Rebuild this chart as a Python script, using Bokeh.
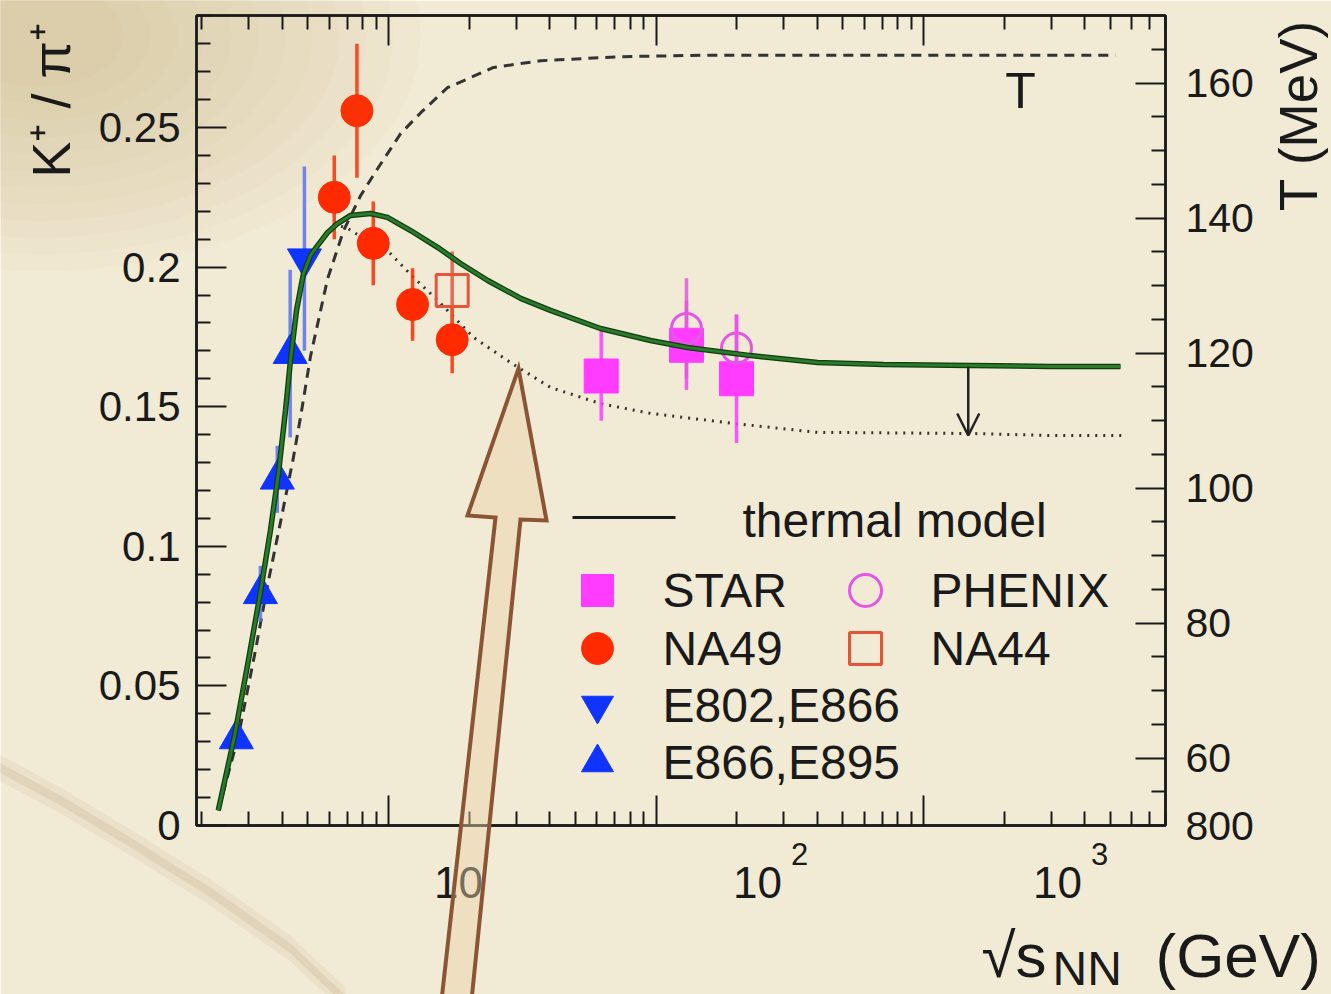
import math
from bokeh.plotting import figure
from bokeh.models import (Range1d, LinearAxis, LogAxis, FixedTicker, Arrow, OpenHead,
                          CustomJSTickFormatter)
from bokeh.core.properties import value
from bokeh.embed import file_html
from bokeh.resources import INLINE

# ---------------- data ----------------
# E866,E895 (AGS, up triangles)
e895_sqrt_s = [2.70, 3.32, 3.84, 4.29]
e895_ratio = [0.031, 0.083, 0.124, 0.169]
e895_err = [0.003, 0.010, 0.012, 0.030]
# E802,E866 (down triangle)
e802_sqrt_s = [4.85]
e802_ratio = [0.203]
e802_err = [0.033]
# NA49 (SPS)
na49_sqrt_s = [6.27, 7.62, 8.77, 12.3, 17.3]
na49_ratio = [0.225, 0.256, 0.2085, 0.1866, 0.174]
na49_err = [0.015, 0.024, 0.015, 0.013, 0.012]
# NA44
na44_sqrt_s = [17.3]
na44_ratio = [0.1916]
na44_err = [0.014]
# STAR
star_sqrt_s = [62.4, 130.0, 200.0]
star_ratio = [0.161, 0.172, 0.160]
star_err = [0.016, 0.016, 0.023]
# PHENIX
phenix_sqrt_s = [130.0, 200.0]
phenix_ratio = [0.178, 0.171]
phenix_err = [0.018, 0.012]

# thermal model K+/pi+ (solid green)
model_sqrt_s = [2.31, 2.66, 2.97, 3.32, 3.62, 3.88, 4.12, 4.30, 4.53, 4.81, 5.11, 5.43,
                5.92, 6.45, 7.21, 8.57, 9.91, 12.1, 15.3, 18.6, 23.5, 31.2, 40.3, 62.0,
                95.4, 131.0, 226.0, 402.0, 709.0, 1500.0, 2980.0, 5450.0]
model_ratio = [0.0054, 0.0322, 0.0573, 0.0835, 0.1057, 0.1264, 0.1486, 0.1665, 0.1845,
               0.1977, 0.2042, 0.2077, 0.2124, 0.2156, 0.2185, 0.2192, 0.2178, 0.2131,
               0.2070, 0.2013, 0.1952, 0.1888, 0.1845, 0.1780, 0.1737, 0.1712, 0.1683,
               0.1658, 0.1651, 0.1648, 0.1644, 0.1644]
# thermal model variant (dotted)
alt_sqrt_s = [5.92, 6.45, 7.00, 7.86, 9.91, 12.4, 15.3, 20.8, 28.6, 40.3, 62.0, 95.4,
              195.0, 402.0, 1500.0, 2980.0, 5690.0]
alt_ratio = [0.2124, 0.2150, 0.2140, 0.2110, 0.2059, 0.1963, 0.1880, 0.1748, 0.1658,
             0.1569, 0.1511, 0.1476, 0.1440, 0.1408, 0.1404, 0.1397, 0.1397]
# freeze-out temperature T (dashed, right axis)
temp_sqrt_s = [2.31, 2.75, 3.18, 3.56, 3.95, 4.41, 4.69, 5.11, 5.92, 6.79, 7.86, 9.10,
               11.1, 13.2, 16.6, 24.7, 37.0, 73.7, 147.0, 5220.0]
temp_mev = [52.2, 63.3, 75.9, 86.3, 95.0, 104.5, 110.5, 119.5, 131.0, 138.1, 143.3, 147.3,
            152.5, 155.6, 159.3, 162.3, 163.3, 163.9, 164.1, 164.1]

# LHC drop arrow
limit_sqrt_s = 1470.0
limit_ratio_from = 0.1644
limit_ratio_to = 0.1397

# ticks / labels
x_major = [10, 100, 1000]
x_minor = [k * 10 ** d for d in range(0, 4) for k in range(2, 10)]
y_major = [0.0, 0.05, 0.10, 0.15, 0.20, 0.25]
y_minor = [i / 100 for i in range(1, 30) if i % 5]
t_major = [50, 60, 80, 100, 120, 140, 160]
t_minor = [t for t in range(55, 170, 5) if t not in t_major]
x_label_base = ["10", "10", "10"]
x_label_exp = ["", "2", "3"]

# ---------------- layout ----------------
W, H = 1331, 994
FL, FT, FW, FH = 196, 15, 969, 810
DEC_PX, TEN_PX = 267.5, 388.0
X_LO = 10 ** (1 - (TEN_PX - FL) / DEC_PX)
X_HI = 10 ** (1 + (FL + FW - TEN_PX) / DEC_PX)
Y_HI = 0.25 * FH / (825 - 127)
T_LO, T_HI = 50.0, 170.0

PAPER = "#f1eAd4"
INK = "#1a1a1a"
FONT = "Liberation Sans"


def dx(px):
    return 10 ** (math.log10(X_LO) + (px - FL) / FW * (math.log10(X_HI) - math.log10(X_LO)))


def dy(py):
    return Y_HI * (FT + FH - py) / FH


p = figure(width=W, height=H, frame_width=FW, frame_height=FH,
           x_axis_type="log", x_range=Range1d(X_LO, X_HI), y_range=Range1d(0, Y_HI),
           output_backend="svg", toolbar_location=None,
           min_border_left=FL, min_border_right=W - FL - FW,
           min_border_top=FT, min_border_bottom=H - FT - FH)
p.extra_y_ranges = {"T": Range1d(T_LO, T_HI)}
p.background_fill_color = PAPER
p.border_fill_color = PAPER
p.outline_line_color = INK
p.outline_line_width = 2.5
p.xgrid.visible = False
p.ygrid.visible = False


def style_axis(ax, major_in=30, minor_in=14, size="42px", standoff=18):
    ax.axis_line_color = INK
    ax.axis_line_width = 2.5
    ax.major_tick_line_color = INK
    ax.minor_tick_line_color = INK
    ax.major_tick_line_width = 2
    ax.minor_tick_line_width = 2
    ax.major_tick_in = major_in
    ax.major_tick_out = 0
    ax.minor_tick_in = minor_in
    ax.minor_tick_out = 0
    ax.major_label_text_font = FONT
    ax.major_label_text_font_size = size
    ax.major_label_text_color = INK
    ax.major_label_standoff = standoff


xb = p.xaxis[0]
xb.ticker = FixedTicker(ticks=x_major, minor_ticks=x_minor)
xb.formatter = CustomJSTickFormatter(code="return ''")
style_axis(xb, size="0px", standoff=0)

xt = LogAxis(ticker=FixedTicker(ticks=x_major, minor_ticks=x_minor),
             formatter=CustomJSTickFormatter(code="return ''"))
style_axis(xt, size="0px", standoff=0)
p.add_layout(xt, "above")

yl = p.yaxis[0]
yl.ticker = FixedTicker(ticks=y_major, minor_ticks=y_minor)
yl.formatter = CustomJSTickFormatter(
    code="return tick === 0 ? '0' : String(parseFloat(tick.toFixed(2)))")
style_axis(yl, size="42px", standoff=16)

yr = LinearAxis(y_range_name="T", ticker=FixedTicker(ticks=t_major, minor_ticks=t_minor),
                formatter=CustomJSTickFormatter(code="return tick == 50 ? '800' : tick.toFixed(0)"))
style_axis(yr, size="41px", standoff=20)
p.add_layout(yr, "right")

# ---------------- paper stains (drawn unclipped, translucent) ----------------
STAIN = "#c79d55"
for i in range(12):
    rx = 380 - i * 27
    ry = rx * 0.62
    pts = [(40 + rx * math.cos(a / 60 * 2 * math.pi), 35 + ry * math.sin(a / 60 * 2 * math.pi))
           for a in range(60)]
    p.patch([dx(a) for a, b in pts], [dy(b) for a, b in pts], fill_color=STAIN,
            fill_alpha=0.03, line_color=None, level="guide")
streak = [(-5, 765), (60, 800), (130, 842), (210, 892), (290, 948), (345, 1000)]
for half, alpha in [(13, 0.07), (5, 0.12)]:
    poly = [(a, b - half) for a, b in streak] + [(a, b + half) for a, b in reversed(streak)]
    p.patch([dx(a) for a, b in poly], [dy(b) for a, b in poly], fill_color="#9f7441",
            fill_alpha=alpha, line_color=None, level="guide")

# ---------------- curves ----------------
p.line(temp_sqrt_s, temp_mev, y_range_name="T", line_color="#333333", line_width=3,
       line_dash="10 7")
p.line(alt_sqrt_s, alt_ratio, line_color="#333333", line_width=3, line_dash="2 6")


# ---------------- error bars ----------------
def errbar(xs, ys, es, color, alpha=0.85, width=3.5):
    p.segment(x0=xs, x1=xs, y0=[v - e for v, e in zip(ys, es)],
              y1=[v + e for v, e in zip(ys, es)], line_color=color, line_alpha=alpha,
              line_width=width)


BLUE, BLUE_ERR = "#1034ff", "#5a72f0"
RED = "#ff2a00"
MAG = "#ff3cff"
NA44C = "#e5553a"
PHXC = "#e655e6"
errbar(e895_sqrt_s, e895_ratio, e895_err, BLUE_ERR)
errbar(e802_sqrt_s, e802_ratio, e802_err, BLUE_ERR)
errbar(na49_sqrt_s, na49_ratio, na49_err, RED)
errbar(na44_sqrt_s, na44_ratio, na44_err, NA44C)
errbar(star_sqrt_s, star_ratio, star_err, MAG)
errbar(phenix_sqrt_s, phenix_ratio, phenix_err, PHXC)

# ---------------- markers ----------------
p.scatter(e895_sqrt_s, e895_ratio, marker="triangle", size=34, fill_color=BLUE, line_color=BLUE)
p.scatter(e802_sqrt_s, e802_ratio, marker="inverted_triangle", size=34, fill_color=BLUE,
          line_color=BLUE)
p.scatter(na49_sqrt_s, na49_ratio, marker="circle", size=32, fill_color=RED, line_color=RED)
p.scatter(na44_sqrt_s, na44_ratio, marker="square", size=32, fill_color=None,
          line_color=NA44C, line_width=3)
p.scatter(star_sqrt_s, star_ratio, marker="square", size=34, fill_color=MAG, line_color=MAG)
p.scatter(phenix_sqrt_s, phenix_ratio, marker="circle", size=30, fill_color=None,
          line_color=PHXC, line_width=3)

# thermal model on top
p.line(model_sqrt_s, model_ratio, line_color="#0f3d12", line_width=5.5)
p.line(model_sqrt_s, model_ratio, line_color="#2a7a2a", line_width=3)

# drop arrow
p.add_layout(Arrow(end=OpenHead(size=22, line_color="#222222", line_width=2.5),
                   x_start=limit_sqrt_s, y_start=limit_ratio_from,
                   x_end=limit_sqrt_s, y_end=limit_ratio_to,
                   line_color="#222222", line_width=2.5))


def text(px, py, s, size, align="left", baseline="middle", angle=0.0):
    p.text(x=[dx(px)], y=[dy(py)], text=[s], text_font=value(FONT),
           text_font_size=value(size), text_color=INK, text_align=align,
           text_baseline=baseline, angle=angle, level="overlay")


# "T" tag
text(1020, 90, "T", "50px", align="center")

# ---------------- legend ----------------
p.line([dx(572), dx(675)], [dy(517), dy(517)], line_color=INK, line_width=3)
text(742, 520, "thermal model", "48px")
leg = [
    (597, 590, "square", MAG, MAG, "STAR"),
    (597, 648, "circle", RED, RED, "NA49"),
    (597, 705, "inverted_triangle", BLUE, BLUE, "E802,E866"),
    (597, 762, "triangle", BLUE, BLUE, "E866,E895"),
    (865, 590, "circle", None, PHXC, "PHENIX"),
    (865, 648, "square", None, NA44C, "NA44"),
]
for lx, ly, mk, fc, lc, name in leg:
    p.scatter([dx(lx)], [dy(ly)], marker=mk, size=32, fill_color=fc, line_color=lc,
              line_width=3 if fc is None else 1)
    text(lx + 65, ly, name, "48px")

# ---------------- axis labels (drawn outside the frame) ----------------
for cx, base, ex in zip([458, 757, 1057], x_label_base, x_label_exp):
    text(cx, 882, base, "44px", align="center")
    if ex:
        text(cx + 42, 853, ex, "31px", align="center")

text(981, 955, "\u221as", "62px")
text(1052, 968, "NN", "48px")
text(1155, 955, "(GeV)", "62px")
text(50, 100, "K\u207a / \u03c0\u207a", "54px", align="center", angle=math.pi / 2)
text(1298, 115, "T (MeV)", "53px", align="center", angle=math.pi / 2)

# ---------------- big brown arrow (overlay, unclipped) ----------------
arrow_px = [(441, 1000), (495, 517), (467, 515), (518, 368), (546, 520), (520, 519), (471, 1000)]
p.patch([dx(a) for a, b in arrow_px], [dy(b) for a, b in arrow_px], fill_color="#e9d3a8",
        fill_alpha=0.45, line_color="#8b5535", line_width=4, line_join="miter", level="overlay")

open("out.html", "w").write(file_html(p, INLINE))
